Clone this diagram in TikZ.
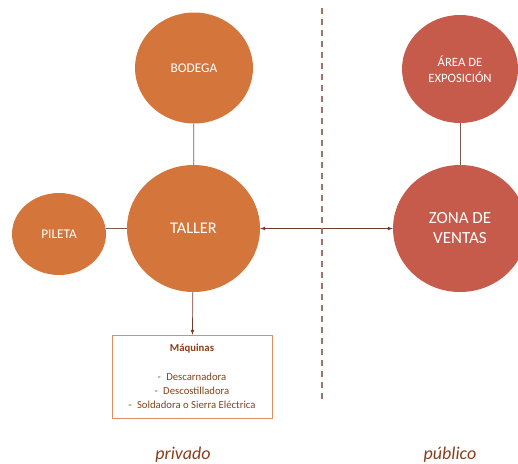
\documentclass[tikz,border=0pt]{standalone}
\usepackage{fontspec}
\setmainfont{Carlito}
\usetikzlibrary{shapes.geometric}

\definecolor{naranja}{HTML}{D4763B}
\definecolor{rojizo}{HTML}{C65B4B}
\definecolor{linea}{HTML}{7E5A4E}
\definecolor{flecha}{HTML}{6E3B2E}
\definecolor{marron}{HTML}{8A3E1C}
\definecolor{borde}{HTML}{DB9060}
\definecolor{corte}{HTML}{9C7565}

\tikzset{
  zona/.style={ellipse,inner sep=0pt,text=white,align=center,font=\fontsize{13.3}{15.5}\selectfont},
  enlace/.style={linea,line width=0.7pt},
  flechita/.style={flecha,line width=0.7pt,-latex}
}

\begin{document}
\begin{tikzpicture}[x=1pt,y=-1pt]

\useasboundingbox (0,0) rectangle (518,463);

\node[zona,fill=naranja,minimum width=118,minimum height=111] (bodega) at (194,68) {BODEGA};
\node[zona,fill=naranja,minimum width=133,minimum height=127,font=\fontsize{16.3}{19}\selectfont] (taller) at (193.5,228.5) {TALLER};
\node[zona,fill=naranja,minimum width=94,minimum height=82] (pileta) at (59,234) {PILETA};

\node[zona,fill=rojizo,minimum width=116,minimum height=108,font=\fontsize{12.7}{15.5}\selectfont] (area) at (460,69) {ÁREA DE\\ EXPOSICIÓN};
\node[zona,fill=rojizo,minimum width=134,minimum height=127,font=\fontsize{17}{20}\selectfont] (ventas) at (460,228.5) {ZONA DE\\ VENTAS};

\node[draw=borde,thin,minimum width=160,minimum height=83,text=marron,align=center,font=\fontsize{10.7}{14}\selectfont] (maquinas) at (192,376.5)
  {\textbf{Máquinas}\\[15pt] -\enspace Descarnadora\\ -\enspace Descostilladora\\ -\enspace Soldadora o Sierra Eléctrica};

\draw[enlace] (bodega) -- (taller);
\draw[enlace] (taller.west) -- (taller.west -| pileta.east);
\draw[enlace] (area) -- (ventas);
\draw[flechita,latex-latex] (taller) -- (ventas);
\draw[flechita] (taller) -- (maquinas);

\coordinate (arriba) at (322,8);
\coordinate (abajo) at (322,400);
\draw[corte,line width=1.3pt,dash pattern=on 6pt off 5pt] (arriba) -- (abajo);

\node[text=marron,font=\fontsize{18}{20}\itshape] (privado) at (183,455) {privado};
\node[text=marron,font=\fontsize{18}{20}\itshape] (publico) at (450,455) {público};

\end{tikzpicture}
\end{document}
